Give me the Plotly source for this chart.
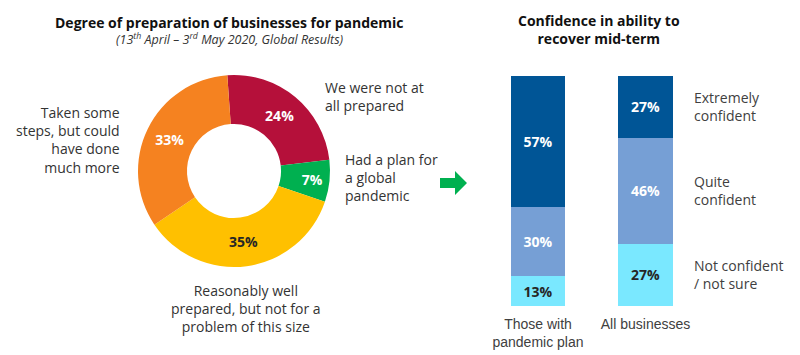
import plotly.graph_objects as go

# ---- Data ----
pie_labels = ["We were not at all prepared", "Had a plan for a global pandemic",
              "Reasonably well prepared, but not for a problem of this size",
              "Taken some steps, but could have done much more"]
pie_values = [24, 7, 35, 33]
pie_colors = ["#B5103A", "#00B050", "#FFC000", "#F58220"]
pie_text_colors = ["white", "white", "#262626", "white"]

bar_categories = ["Those with<br>pandemic plan", "All businesses"]
not_confident = [13, 27]
quite_confident = [30, 46]
extremely_confident = [57, 27]
series_names = ["Not confident<br>/ not sure", "Quite<br>confident", "Extremely<br>confident"]
series_values = [not_confident, quite_confident, extremely_confident]
series_colors = ["#7AE8FF", "#769FD5", "#005596"]
series_text_colors = ["#262626", "white", "white"]

FONT = "Open Sans"
W, H = 800, 355

def px(x):
    return x / W

def py(y):
    return 1 - y / H

fig = go.Figure()

fig.add_trace(go.Pie(
    labels=pie_labels, values=pie_values, sort=False, direction="clockwise",
    rotation=-4, hole=0.49,
    marker=dict(colors=pie_colors, line=dict(color="white", width=0)),
    texttemplate="%{value}%", textinfo="text", textposition="inside",
    insidetextorientation="horizontal",
    textfont=dict(family=FONT, size=14, color=pie_text_colors, weight="bold"),
    domain=dict(x=[px(138), px(330)], y=[py(267), py(75)]),
    showlegend=False, hoverinfo="label+value",
))

for name, vals, col, tcol in zip(series_names, series_values, series_colors, series_text_colors):
    fig.add_trace(go.Bar(
        x=bar_categories, y=vals, name=name, marker=dict(color=col, line=dict(width=0)),
        width=0.507, text=[f"{v}%" for v in vals], textposition="inside",
        insidetextanchor="middle", constraintext="none",
        textfont=dict(family=FONT, size=14, color=tcol, weight="bold"),
        showlegend=False, xaxis="x", yaxis="y",
    ))

fig.update_layout(
    width=W, height=H, margin=dict(l=0, r=0, t=0, b=0),
    paper_bgcolor="white", plot_bgcolor="white", barmode="stack",
    font=dict(family=FONT, color="#333333"),
    xaxis=dict(domain=[px(484.25), px(699.25)], range=[-0.5, 1.5], showgrid=False,
               zeroline=False, showline=False, ticks="", ticklabelstandoff=8,
               tickfont=dict(family="Liberation Sans, Arial", size=14, color="#404040")),
    yaxis=dict(domain=[py(306), py(75.7)], range=[0, 100], visible=False),
)

ann = []
# titles
ann.append(dict(text="<b>Degree of preparation of businesses for pandemic</b>", x=px(230), y=py(22),
                font=dict(size=14, color="#111111")))
ann.append(dict(text="<i>(13<sup>th</sup> April – 3<sup>rd</sup> May 2020, Global Results)</i>",
                x=px(230), y=py(39), font=dict(size=12.5, color="#333333")))
ann.append(dict(text="<b>Confidence in ability to<br>recover mid-term</b>", x=px(599), y=py(29),
                font=dict(size=14, color="#111111")))
# pie labels
ann.append(dict(text="We were not at<br>all prepared", x=px(323), y=py(96.5), xanchor="left", align="left"))
ann.append(dict(text="Had a plan for<br>a global<br>pandemic", x=px(343), y=py(177.5), xanchor="left", align="left"))
ann.append(dict(text="Taken some<br>steps, but could<br>have done<br>much more", x=px(122), y=py(140.5),
                xanchor="right", align="right"))
ann.append(dict(text="Reasonably well<br>prepared, but not for a<br>problem of this size", x=px(246), y=py(308.5),
                align="center"))

base = dict(xref="paper", yref="paper", showarrow=False, xanchor="center", yanchor="middle",
            font=dict(size=14, color="#333333", family=FONT))
final = []
for a in ann:
    d = dict(base)
    d.update(a)
    f = dict(base["font"])
    f.update(a.get("font", {}))
    d["font"] = f
    final.append(d)

# series labels beside the right bar
cum = 0
for name, vals in zip(series_names, series_values):
    v = vals[1]
    final.append(dict(text=name, xref="x", yref="y", x=1.43, y=cum + v / 2, xanchor="left",
                      yanchor="middle", align="left", showarrow=False,
                      font=dict(size=14, color="#404040", family=FONT)))
    cum += v

fig.update_layout(annotations=final)

# green arrow
arrow = (f"M {px(440)} {py(178)} L {px(455)} {py(178)} L {px(455)} {py(171)} "
         f"L {px(467)} {py(183)} L {px(455)} {py(195)} L {px(455)} {py(188)} L {px(440)} {py(188)} Z")
fig.add_shape(type="path", path=arrow, xref="paper", yref="paper",
              fillcolor="#00B050", line=dict(width=0))

fig.write_html("out.html", config={"displayModeBar": False},
               post_script="document.body.style.margin='0';")
